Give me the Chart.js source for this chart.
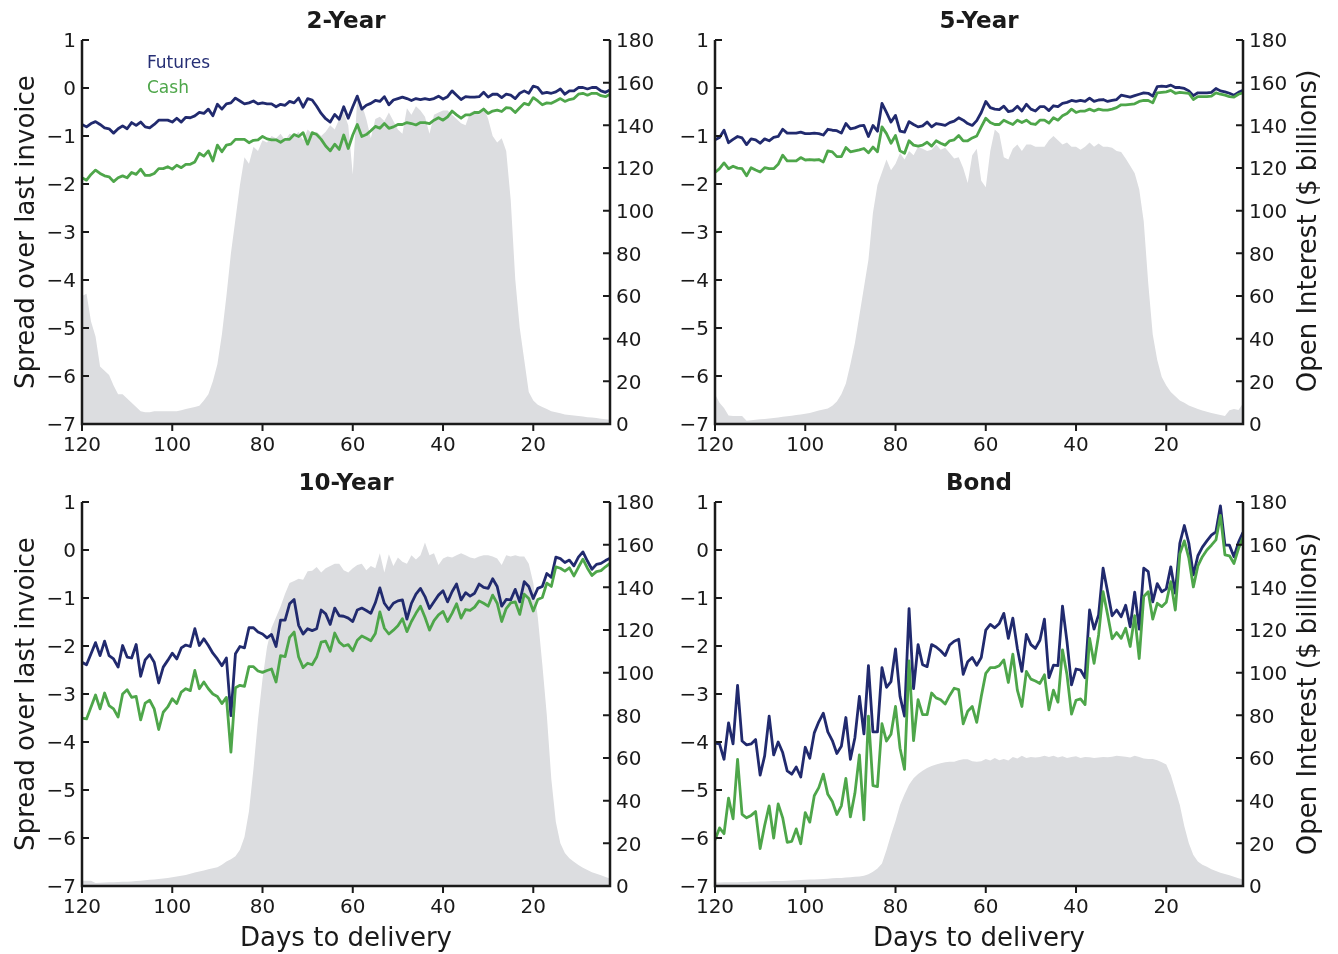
<!DOCTYPE html>
<html>
<head>
<meta charset="utf-8">
<script src="https://cdn.jsdelivr.net/npm/chart.js@4.4.0/dist/chart.umd.min.js"></script>
<style>
  body { margin: 0; background: #fff; width: 1338px; height: 954px; position: relative; overflow: hidden; font-family: "DejaVu Sans", sans-serif; }
  canvas { position: absolute; }
  .lbl { position: absolute; white-space: nowrap; color: #1a1a1a; line-height: 1; transform: translate(-50%, -50%); }
  .title { font-size: 23px; font-weight: bold; }
  .axis { font-size: 26px; }
  .rot { transform: translate(-50%, -50%) rotate(-90deg); }
  .leg { position: absolute; font-size: 17px; line-height: 1; transform: translateY(-50%); }
</style>
</head>
<body>
<canvas id="c1" width="669" height="477" style="left:0;top:0"></canvas>
<canvas id="c2" width="669" height="477" style="left:669px;top:0"></canvas>
<canvas id="c3" width="669" height="477" style="left:0;top:477px"></canvas>
<canvas id="c4" width="669" height="477" style="left:669px;top:477px"></canvas>

<div class="lbl title" style="left:346px;top:20px">2-Year</div>
<div class="lbl title" style="left:979px;top:20px">5-Year</div>
<div class="lbl title" style="left:346px;top:482px">10-Year</div>
<div class="lbl title" style="left:979px;top:482px">Bond</div>
<div class="lbl axis rot" style="left:25px;top:232px">Spread over last invoice</div>
<div class="lbl axis rot" style="left:25px;top:694px">Spread over last invoice</div>
<div class="lbl axis rot" style="left:1307px;top:231px">Open Interest ($ billions)</div>
<div class="lbl axis rot" style="left:1307px;top:694px">Open Interest ($ billions)</div>
<div class="lbl axis" style="left:346px;top:937px">Days to delivery</div>
<div class="lbl axis" style="left:979px;top:937px">Days to delivery</div>
<div class="leg" style="left:147px;top:62px;color:#262f75">Futures</div>
<div class="leg" style="left:147px;top:87px;color:#4ea64a">Cash</div>

<script>
// days to delivery, 120 down to 3
const days = [];
for (let d = 120; d >= 3; d--) days.push(d);

const xTicks = [120, 100, 80, 60, 40, 20];
const spreadTicks = [1, 0, -1, -2, -3, -4, -5, -6, -7];
const oiTicks = [0, 20, 40, 60, 80, 100, 120, 140, 160, 180];

// 2-Year
const twoFutures = [
  -0.76, -0.81, -0.74, -0.70, -0.76, -0.83, -0.85, -0.94, -0.85, -0.79,
  -0.85, -0.72, -0.78, -0.71, -0.81, -0.83, -0.76, -0.67, -0.67, -0.67,
  -0.71, -0.63, -0.71, -0.61, -0.62, -0.58, -0.51, -0.53, -0.44, -0.58,
  -0.34, -0.44, -0.33, -0.31, -0.21, -0.27, -0.33, -0.31, -0.27, -0.33,
  -0.31, -0.33, -0.33, -0.39, -0.34, -0.36, -0.28, -0.31, -0.21, -0.40,
  -0.22, -0.25, -0.38, -0.53, -0.64, -0.71, -0.55, -0.65, -0.39, -0.63,
  -0.39, -0.17, -0.44, -0.36, -0.32, -0.26, -0.28, -0.18, -0.35, -0.25,
  -0.22, -0.19, -0.22, -0.26, -0.22, -0.24, -0.22, -0.24, -0.22, -0.17,
  -0.23, -0.18, -0.06, -0.15, -0.24, -0.18, -0.19, -0.19, -0.18, -0.09,
  -0.19, -0.13, -0.13, -0.20, -0.13, -0.15, -0.22, -0.11, -0.06, -0.11,
  0.04, 0.01, -0.11, -0.09, -0.11, -0.08, -0.02, -0.13, -0.06, -0.06,
  0.01, 0.01, -0.02, 0.01, 0.01, -0.06, -0.09, -0.04
];
const twoCash = [
  -1.87, -1.92, -1.80, -1.71, -1.78, -1.83, -1.85, -1.95, -1.87, -1.83,
  -1.87, -1.76, -1.80, -1.69, -1.82, -1.82, -1.78, -1.68, -1.68, -1.64,
  -1.69, -1.61, -1.66, -1.59, -1.59, -1.54, -1.36, -1.42, -1.31, -1.52,
  -1.19, -1.33, -1.19, -1.17, -1.07, -1.07, -1.07, -1.14, -1.09, -1.08,
  -1.01, -1.06, -1.08, -1.08, -1.13, -1.07, -1.07, -0.97, -1.01, -0.93,
  -1.17, -0.93, -0.97, -1.07, -1.21, -1.31, -1.17, -1.28, -0.98, -1.26,
  -0.98, -0.76, -1.01, -0.97, -0.89, -0.80, -0.84, -0.74, -0.84, -0.81,
  -0.76, -0.76, -0.72, -0.74, -0.77, -0.72, -0.72, -0.74, -0.67, -0.62,
  -0.67, -0.60, -0.48, -0.56, -0.63, -0.56, -0.56, -0.51, -0.51, -0.44,
  -0.53, -0.48, -0.46, -0.49, -0.41, -0.42, -0.51, -0.41, -0.32, -0.35,
  -0.20, -0.27, -0.35, -0.31, -0.32, -0.27, -0.22, -0.28, -0.24, -0.22,
  -0.13, -0.11, -0.15, -0.11, -0.11, -0.16, -0.18, -0.13
];
const twoOI = [
  60, 61, 48, 41, 27, 25, 23, 18, 14, 14,
  12, 10, 8, 6, 5.5, 5.5, 6, 6, 6, 6,
  6, 6, 6.5, 7, 7.5, 8, 8.5, 11, 14, 20,
  28, 42, 60, 80, 96, 112, 125, 122, 130, 128,
  133, 132, 135, 134, 136, 133, 136, 135, 137, 133,
  138, 136, 137, 135, 137, 140, 138, 143, 146, 140,
  117, 153, 150, 143, 134, 143, 144, 142, 146, 142,
  138, 136, 148, 145, 149, 147, 144, 136, 145, 146,
  147, 147, 145, 143, 141, 140, 146, 147, 145, 149,
  143, 135, 132, 134, 128, 105, 68, 45, 30, 15,
  11, 9, 8, 7, 6, 5.5, 5, 4.5, 4.2, 4,
  3.8, 3.5, 3.2, 3, 2.8, 2.5, 2.2, 2
];

// 5-Year
const fiveFutures = [
  -1.08, -1.03, -0.88, -1.14, -1.07, -1.01, -1.04, -1.18, -1.06, -1.08,
  -1.15, -1.06, -1.10, -1.03, -1.01, -0.86, -0.94, -0.94, -0.94, -0.92,
  -0.95, -0.95, -0.94, -0.95, -0.98, -0.86, -0.88, -0.89, -0.94, -0.74,
  -0.85, -0.83, -0.79, -0.78, -1.01, -0.78, -0.90, -0.32, -0.51, -0.71,
  -0.57, -0.90, -0.92, -0.70, -0.76, -0.81, -0.79, -0.71, -0.81, -0.74,
  -0.76, -0.78, -0.72, -0.69, -0.62, -0.67, -0.74, -0.78, -0.68, -0.51,
  -0.28, -0.41, -0.44, -0.45, -0.38, -0.49, -0.47, -0.38, -0.48, -0.34,
  -0.44, -0.48, -0.39, -0.39, -0.47, -0.37, -0.39, -0.32, -0.30, -0.26,
  -0.28, -0.26, -0.28, -0.21, -0.28, -0.25, -0.24, -0.28, -0.26, -0.24,
  -0.15, -0.17, -0.19, -0.16, -0.13, -0.10, -0.11, -0.17, 0.03, 0.04,
  0.03, 0.06, 0.01, 0.01, -0.01, -0.06, -0.16, -0.10, -0.10, -0.10,
  -0.09, -0.01, -0.06, -0.08, -0.11, -0.15, -0.09, -0.05
];
const fiveCash = [
  -1.76, -1.68, -1.56, -1.68, -1.63, -1.67, -1.68, -1.83, -1.66, -1.71,
  -1.75, -1.66, -1.68, -1.68, -1.59, -1.40, -1.52, -1.52, -1.52, -1.45,
  -1.50, -1.49, -1.50, -1.49, -1.54, -1.31, -1.33, -1.43, -1.43, -1.24,
  -1.33, -1.31, -1.29, -1.26, -1.35, -1.23, -1.33, -0.81, -0.95, -1.15,
  -0.99, -1.31, -1.36, -1.10, -1.19, -1.21, -1.19, -1.13, -1.21, -1.10,
  -1.15, -1.19, -1.10, -1.08, -0.99, -1.10, -1.10, -1.04, -1.00, -0.81,
  -0.63, -0.72, -0.76, -0.76, -0.67, -0.72, -0.76, -0.67, -0.72, -0.67,
  -0.74, -0.76, -0.67, -0.67, -0.73, -0.62, -0.67, -0.58, -0.53, -0.44,
  -0.51, -0.48, -0.48, -0.44, -0.48, -0.44, -0.46, -0.46, -0.44, -0.41,
  -0.35, -0.35, -0.34, -0.33, -0.28, -0.26, -0.26, -0.31, -0.10, -0.09,
  -0.08, -0.05, -0.11, -0.09, -0.10, -0.11, -0.24, -0.18, -0.18, -0.18,
  -0.17, -0.10, -0.13, -0.15, -0.18, -0.19, -0.13, -0.10
];
const fiveOI = [
  14, 10, 7.5, 4, 3.8, 3.8, 3.8, 1.5, 1.8, 2,
  2.2, 2.4, 2.6, 2.8, 3.1, 3.4, 3.6, 3.9, 4.2, 4.5,
  4.8, 5.2, 5.8, 6.3, 6.8, 7.3, 8.5, 10.5, 14, 19,
  28, 38, 51, 64, 77, 99, 112, 118, 124, 119,
  122, 127, 124, 128, 126, 130, 129, 128, 128.5, 131,
  128.5, 129.5, 127, 124.5, 125, 120, 113, 126, 129, 114,
  111, 128, 138, 136, 125, 124, 129, 131, 128, 131,
  131, 130, 130, 130, 133, 135, 133, 131, 132, 130,
  130, 128.5, 130, 132, 130, 131.5, 130, 130, 129.5, 128,
  127.5, 124.5, 121, 117.5, 110, 95, 66, 42, 30, 22,
  18, 15, 13, 11, 10, 8.7, 7.8, 7, 6.3, 5.8,
  5.2, 4.7, 4.2, 3.8, 6.5, 7, 6.6, 9.7
];

// 10-Year
const tenFutures = [
  -2.34, -2.39, -2.16, -1.93, -2.20, -1.90, -2.20, -2.27, -2.44, -1.99,
  -2.23, -2.25, -1.97, -2.63, -2.29, -2.18, -2.34, -2.77, -2.44, -2.30,
  -2.15, -2.27, -2.04, -1.98, -2.01, -1.64, -1.99, -1.85, -1.99, -2.15,
  -2.27, -2.41, -2.25, -3.45, -2.16, -2.01, -2.04, -1.62, -1.62, -1.71,
  -1.75, -1.83, -1.76, -2.01, -1.46, -1.46, -1.12, -1.03, -1.57, -1.75,
  -1.64, -1.68, -1.64, -1.25, -1.33, -1.55, -1.21, -1.37, -1.38, -1.42,
  -1.49, -1.25, -1.21, -1.26, -1.32, -1.10, -0.79, -1.11, -1.24, -1.11,
  -1.06, -1.04, -1.44, -1.11, -0.92, -0.80, -0.97, -1.22, -1.08, -0.94,
  -0.85, -1.08, -0.87, -0.71, -1.04, -0.89, -0.96, -0.90, -0.71, -0.78,
  -0.80, -0.60, -0.76, -1.17, -1.03, -1.04, -0.82, -1.08, -0.66, -0.76,
  -1.01, -0.80, -0.76, -0.49, -0.57, -0.15, -0.18, -0.26, -0.21, -0.33,
  -0.15, -0.04, -0.23, -0.40, -0.30, -0.28, -0.22, -0.17
];
const tenCash = [
  -3.50, -3.52, -3.27, -3.02, -3.31, -2.98, -3.24, -3.31, -3.48, -3.00,
  -2.91, -3.07, -3.05, -3.54, -3.19, -3.13, -3.31, -3.74, -3.38, -3.27,
  -3.10, -3.20, -2.96, -2.89, -2.93, -2.51, -2.89, -2.75, -2.89, -3.00,
  -3.05, -3.20, -3.07, -4.21, -2.87, -2.82, -2.84, -2.43, -2.43, -2.52,
  -2.55, -2.51, -2.48, -2.75, -2.20, -2.22, -1.82, -1.71, -2.23, -2.45,
  -2.36, -2.39, -2.23, -1.92, -1.90, -2.11, -1.73, -1.92, -2.00, -1.97,
  -2.10, -1.88, -1.79, -1.84, -1.89, -1.74, -1.29, -1.63, -1.75, -1.67,
  -1.58, -1.43, -1.70, -1.49, -1.32, -1.17, -1.40, -1.67, -1.47, -1.35,
  -1.28, -1.49, -1.32, -1.12, -1.42, -1.24, -1.26, -1.19, -1.06, -1.11,
  -1.17, -0.94, -1.11, -1.49, -1.22, -1.10, -1.08, -1.34, -0.92, -1.01,
  -1.27, -1.03, -0.99, -0.69, -0.76, -0.35, -0.38, -0.44, -0.37, -0.54,
  -0.36, -0.19, -0.38, -0.53, -0.45, -0.43, -0.35, -0.28
];
const tenOI = [
  2.5, 2.5, 2.5, 1.4, 1.5, 1.6, 1.7, 1.8, 1.9, 2,
  2, 2.1, 2.3, 2.5, 2.7, 2.9, 3.1, 3.3, 3.5, 3.8,
  4.1, 4.4, 4.8, 5.2, 5.7, 6.3, 6.8, 7.3, 7.8, 8.3,
  8.8, 10, 11.5, 12.5, 14, 17, 23, 35, 55, 78,
  97, 112, 121, 126, 131, 137, 142, 143, 144, 143.5,
  147.5, 147.8, 149.5, 147, 149, 150, 151, 151, 148, 147,
  149, 150.5, 151, 148, 150, 149, 156, 147, 155.5, 150,
  154, 152, 151, 155, 153, 155, 161, 155, 156, 150.5,
  153.5, 154.5, 154, 155, 156, 155, 154, 153.5, 154.5, 155,
  155, 154.5, 153.5, 150.5, 155, 154.5, 155, 154.5, 154.5, 151,
  142, 126, 104, 80, 50, 30, 20, 15.5, 13, 11.4,
  9.8, 8.5, 7.5, 6.5, 5.8, 5, 4.2, 3.5
];

// Bond
const bondFutures = [
  -4.02, -4.04, -4.36, -3.60, -4.04, -2.82, -3.98, -4.06, -4.04, -3.95,
  -4.69, -4.29, -3.46, -4.27, -4.00, -4.22, -4.60, -4.67, -4.52, -4.73,
  -4.11, -4.34, -3.81, -3.58, -3.40, -3.79, -3.97, -4.24, -4.09, -3.49,
  -4.36, -3.91, -3.05, -3.83, -2.41, -3.79, -3.79, -2.45, -2.86, -2.74,
  -2.06, -3.05, -3.46, -1.22, -2.89, -1.97, -2.39, -2.43, -1.97, -2.02,
  -2.10, -2.20, -1.98, -1.90, -1.86, -2.59, -2.33, -2.24, -2.40, -2.24,
  -1.67, -1.55, -1.62, -1.53, -1.32, -1.84, -1.42, -2.05, -2.53, -1.76,
  -1.97, -2.05, -1.88, -1.44, -2.66, -2.40, -2.41, -1.17, -1.91, -2.81,
  -2.48, -2.50, -2.66, -1.25, -1.65, -1.35, -0.38, -0.87, -1.37, -1.25,
  -1.39, -1.15, -1.60, -0.88, -1.65, -0.38, -0.45, -1.08, -0.70, -0.87,
  -0.81, -0.35, -0.90, 0.14, 0.51, 0.14, -0.52, -0.12, 0.06, 0.19,
  0.31, 0.38, 0.92, 0.10, 0.10, -0.14, 0.16, 0.37
];
const bondCash = [
  -6.04, -5.79, -5.91, -5.17, -5.60, -4.36, -5.51, -5.58, -5.53, -5.45,
  -6.22, -5.74, -5.33, -6.00, -5.29, -5.58, -6.09, -6.07, -5.81, -6.12,
  -5.47, -5.67, -5.12, -4.95, -4.67, -5.09, -5.24, -5.51, -5.33, -4.76,
  -5.56, -5.07, -4.27, -5.62, -3.46, -4.91, -4.93, -3.62, -3.98, -3.84,
  -3.26, -4.13, -4.57, -2.31, -3.97, -3.12, -3.43, -3.43, -2.98, -3.08,
  -3.12, -3.21, -3.03, -2.88, -2.91, -3.62, -3.36, -3.26, -3.59, -3.05,
  -2.57, -2.45, -2.45, -2.41, -2.29, -2.76, -2.17, -2.92, -3.26, -2.53,
  -2.69, -2.73, -2.78, -2.60, -3.33, -2.92, -3.17, -2.08, -2.60, -3.42,
  -3.13, -3.10, -3.22, -1.84, -2.36, -1.77, -0.87, -1.35, -1.85, -1.72,
  -1.84, -1.63, -2.01, -1.37, -2.26, -0.97, -0.87, -1.44, -1.11, -1.18,
  -1.09, -0.66, -1.25, -0.08, 0.19, -0.17, -0.77, -0.33, -0.14, 0.00,
  0.10, 0.21, 0.72, -0.10, -0.12, -0.28, 0.03, 0.26
];
const bondOI = [
  1.6, 1.6, 1.7, 1.7, 1.8, 1.8, 1.9, 1.9, 2.0, 2.0,
  2.1, 2.1, 2.2, 2.3, 2.3, 2.4, 2.5, 2.6, 2.7, 2.8,
  2.9, 3.0, 3.1, 3.2, 3.3, 3.4, 3.6, 3.7, 3.8, 4.0,
  4.1, 4.3, 4.5, 4.8, 5.5, 6.7, 8.2, 10.5, 16.9, 24,
  30.5, 38, 43, 47.5, 50.5, 52.5, 54, 55.3, 56.3, 57,
  57.5, 58, 58.3, 58.3, 59, 59.4, 59.4, 58.5, 58.3, 58.5,
  59.5, 58.8, 60, 59, 59.5, 58.8, 60.5, 59.8, 61, 60,
  60.5, 60.2, 60.5, 61, 60.5, 61, 60.2, 60.8, 60, 60.5,
  60.8, 60, 60.5, 60.4, 60, 60.2, 60.5, 60.4, 60.6, 61,
  60.8, 60.6, 60.2, 61, 60.5, 59.8, 59.5, 59.5, 59, 58,
  57, 52, 45, 38, 28, 20, 14.5, 11.5, 10, 9,
  7.8, 7, 6.2, 5.6, 5, 4.3, 3.6, 3.1
];

const futuresColor = '#212a6e';
const cashColor = '#4ea64a';
const oiColor = '#dcdde0';
const inkColor = '#1a1a1a';
const tickFont = { family: 'DejaVu Sans', size: 20 };

const pairs = (vals) => days.map((d, i) => ({ x: d, y: vals[i] }));
const minusSign = (v) => (v < 0 ? '\u2212' + Math.abs(v) : String(v));

// spines and inward ticks, matplotlib style
const spines = {
  id: 'spines',
  afterDatasetsDraw(chart) {
    const { ctx, chartArea: a, scales } = chart;
    ctx.save();
    ctx.strokeStyle = inkColor;
    ctx.lineWidth = 2.5;
    ctx.beginPath();
    ctx.moveTo(a.left, a.top);
    ctx.lineTo(a.left, a.bottom);
    ctx.lineTo(a.right, a.bottom);
    ctx.lineTo(a.right, a.top);
    ctx.stroke();
    ctx.lineWidth = 2;
    ctx.beginPath();
    scales.y.ticks.forEach(t => {
      const y = scales.y.getPixelForValue(t.value);
      ctx.moveTo(a.left, y); ctx.lineTo(a.left + 7, y);
    });
    scales.y1.ticks.forEach(t => {
      const y = scales.y1.getPixelForValue(t.value);
      ctx.moveTo(a.right, y); ctx.lineTo(a.right - 7, y);
    });
    scales.x.ticks.forEach(t => {
      const x = scales.x.getPixelForValue(t.value);
      ctx.moveTo(x, a.bottom); ctx.lineTo(x, a.bottom + 7);
    });
    ctx.stroke();
    ctx.restore();
  }
};

function makePanel(id, futures, cash, oi, box) {
  new Chart(document.getElementById(id), {
    type: 'line',
    data: {
      datasets: [
        { data: pairs(cash), borderColor: cashColor, borderWidth: 2.8, pointRadius: 0, yAxisID: 'y', borderJoinStyle: 'round' },
        { data: pairs(futures), borderColor: futuresColor, borderWidth: 2.8, pointRadius: 0, yAxisID: 'y', borderJoinStyle: 'round' },
        { data: pairs(oi), borderWidth: 0, pointRadius: 0, yAxisID: 'y1', fill: 'start', backgroundColor: oiColor }
      ]
    },
    options: {
      responsive: false,
      animation: false,
      events: [],
      layout: { padding: { top: box.top, left: 0, right: 0, bottom: 0 } },
      plugins: { legend: { display: false }, tooltip: { enabled: false } },
      elements: { line: { tension: 0 } },
      scales: {
        x: {
          type: 'linear', reverse: true, min: 3, max: 120,
          afterBuildTicks: s => { s.ticks = xTicks.map(v => ({ value: v })); },
          afterFit: s => { s.height = box.bottom; },
          grid: { display: false, drawTicks: false },
          border: { display: false },
          ticks: { font: tickFont, color: inkColor, padding: 10, maxRotation: 0 }
        },
        y: {
          position: 'left', min: -7, max: 1,
          afterBuildTicks: s => { s.ticks = spreadTicks.map(v => ({ value: v })); },
          afterFit: s => { s.width = box.left; },
          grid: { display: false, drawTicks: false },
          border: { display: false },
          ticks: { font: tickFont, color: inkColor, padding: 6, labelOffset: 2, callback: minusSign }
        },
        y1: {
          position: 'right', min: 0, max: 180,
          afterBuildTicks: s => { s.ticks = oiTicks.map(v => ({ value: v })); },
          afterFit: s => { s.width = box.right; },
          grid: { display: false, drawTicks: false },
          border: { display: false },
          ticks: { font: tickFont, color: inkColor, padding: 6, labelOffset: 2 }
        }
      }
    },
    plugins: [spines]
  });
}

makePanel('c1', twoFutures, twoCash, twoOI, { top: 40, left: 82, right: 59, bottom: 53 });
makePanel('c2', fiveFutures, fiveCash, fiveOI, { top: 40, left: 46, right: 95, bottom: 53 });
makePanel('c3', tenFutures, tenCash, tenOI, { top: 25, left: 82, right: 59, bottom: 68 });
makePanel('c4', bondFutures, bondCash, bondOI, { top: 25, left: 46, right: 95, bottom: 68 });
</script>
</body>
</html>
